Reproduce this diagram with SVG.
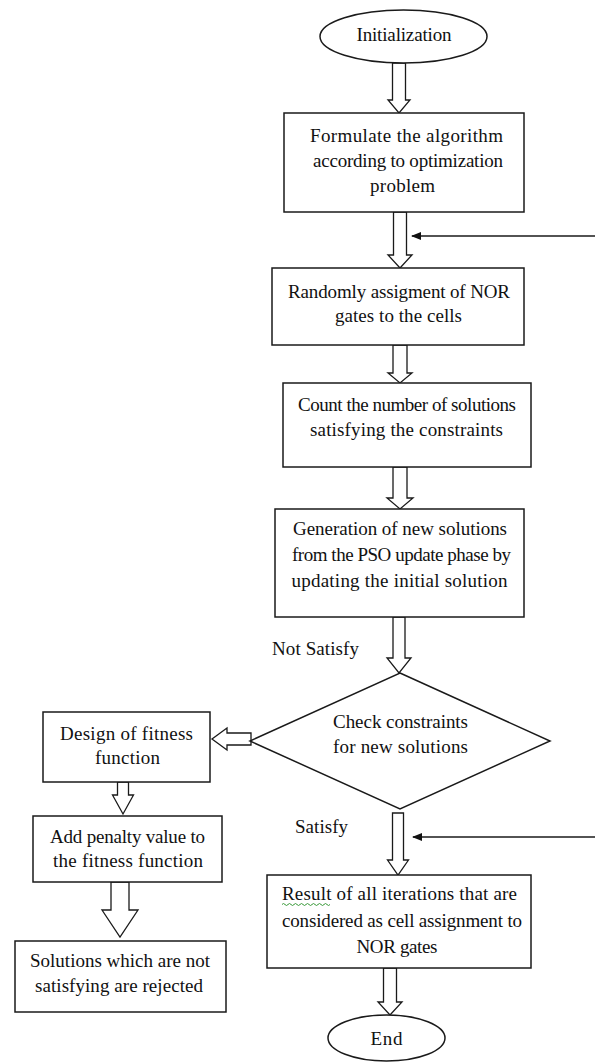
<svg xmlns="http://www.w3.org/2000/svg" width="595" height="1064" viewBox="0 0 595 1064">
<style>
.s{fill:#fff;stroke:#1a1a1a;stroke-width:1.5}
.t{font-family:"Liberation Serif","Times New Roman",serif;font-size:19px;fill:#111;text-anchor:middle}
.l{font-family:"Liberation Serif","Times New Roman",serif;font-size:19px;fill:#111}
.b{fill:#fff;stroke:#1a1a1a;stroke-width:1.3;stroke-linejoin:miter}
.ln{stroke:#1a1a1a;stroke-width:1.3;fill:none}
</style>
<defs>
<marker id="ah" markerWidth="10" markerHeight="8" refX="9" refY="4" orient="auto" markerUnits="userSpaceOnUse">
<path d="M0,0 L10,4 L0,8 Z" fill="#111"/>
</marker>
</defs>
<rect width="595" height="1064" fill="#fff"/>
<g id="connectors">
<polygon class="b" points="392.5,63 405.5,63 405.5,100 410,100 399,113 388,100 392.5,100"/>
<polygon class="b" points="393.5,212 406.5,212 406.5,255 412,255 400,268 388,255 393.5,255"/>
<polygon class="b" points="393,345 407,345 407,373 412,373 400,383 388,373 393,373"/>
<polygon class="b" points="393,467 407,467 407,498 413,498 400,509 387,498 393,498"/>
<polygon class="b" points="393,617 405,617 405,658 411,658 399,673 387,658 393,658"/>
<polygon class="b" points="251,733 251,745 227,745 227,750 212,739 227,728 227,733"/>
<polygon class="b" points="117.5,782 128.5,782 128.5,795 133.5,795 123,814 112.5,795 117.5,795"/>
<polygon class="b" points="111,882 129,882 129,910 138,910 120,937 102,910 111,910"/>
<polygon class="b" points="392.5,813 403.5,813 403.5,860 408.5,860 398,875 387.5,860 392.5,860"/>
<polygon class="b" points="383.5,968 396.5,968 396.5,1002 402,1002 390,1015 378,1002 383.5,1002"/>
<line class="ln" x1="598" y1="236" x2="412" y2="236" marker-end="url(#ah)"/>
<line class="ln" x1="598" y1="837" x2="413" y2="837" marker-end="url(#ah)"/>
</g>
<g id="init">
<ellipse class="s" cx="403.5" cy="36.5" rx="83.5" ry="26.5"/>
<text class="t" x="404" y="41" textLength="95" lengthAdjust="spacing">Initialization</text>
</g>
<g id="formulate">
<rect class="s" x="284" y="113" width="240" height="99"/>
<text class="t" x="406.5" y="142" textLength="193" lengthAdjust="spacing">Formulate the algorithm</text>
<text class="t" x="408" y="167" textLength="190" lengthAdjust="spacing">according to optimization</text>
<text class="t" x="402.5" y="192" textLength="65" lengthAdjust="spacing">problem</text>
</g>
<g id="assign">
<rect class="s" x="272" y="268" width="252" height="77"/>
<text class="t" x="399" y="298" textLength="222" lengthAdjust="spacing">Randomly assigment of NOR</text>
<text class="t" x="398.5" y="322" textLength="127" lengthAdjust="spacing">gates to the cells</text>
</g>
<g id="count">
<rect class="s" x="283" y="383" width="248" height="84"/>
<text class="t" x="407" y="411" textLength="218" lengthAdjust="spacing">Count the number of solutions</text>
<text class="t" x="406.5" y="436" textLength="193" lengthAdjust="spacing">satisfying the constraints</text>
</g>
<g id="generate">
<rect class="s" x="275" y="509" width="249" height="108"/>
<text class="t" x="400" y="535" textLength="214" lengthAdjust="spacing">Generation of new solutions</text>
<text class="t" x="401.5" y="561" textLength="219" lengthAdjust="spacing">from the PSO update phase by</text>
<text class="t" x="399.5" y="587" textLength="216" lengthAdjust="spacing">updating the initial solution</text>
</g>
<text class="l" x="272" y="655" textLength="87" lengthAdjust="spacing">Not Satisfy</text>
<g id="check">
<polygon class="s" points="400,673 550,741 400,809 250,741"/>
<text class="t" x="400.5" y="728" textLength="135" lengthAdjust="spacing">Check constraints</text>
<text class="t" x="400.5" y="753" textLength="135" lengthAdjust="spacing">for new solutions</text>
</g>
<g id="design">
<rect class="s" x="43" y="712" width="167" height="70"/>
<text class="t" x="126.5" y="740" textLength="133" lengthAdjust="spacing">Design of fitness</text>
<text class="t" x="127.5" y="764" textLength="65" lengthAdjust="spacing">function</text>
</g>
<g id="penalty">
<rect class="s" x="33" y="816" width="189" height="66"/>
<text class="t" x="127.5" y="843" textLength="155" lengthAdjust="spacing">Add penalty value to</text>
<text class="t" x="128" y="867" textLength="150" lengthAdjust="spacing">the fitness function</text>
</g>
<g id="rejected">
<rect class="s" x="15" y="941" width="211" height="71"/>
<text class="t" x="120" y="967" textLength="180" lengthAdjust="spacing">Solutions which are not</text>
<text class="t" x="119" y="992" textLength="168" lengthAdjust="spacing">satisfying are rejected</text>
</g>
<text class="l" x="295" y="833" textLength="53" lengthAdjust="spacing">Satisfy</text>
<g id="result">
<rect class="s" x="267" y="875" width="264" height="93"/>
<text class="t" x="399.5" y="900" textLength="235" lengthAdjust="spacing">Result of all iterations that are</text>
<path d="M282,904.5 q1.5,-2 3,0 t3,0 t3,0 t3,0 t3,0 t3,0 t3,0 t3,0 t3,0 t3,0 t3,0 t3,0 t3,0 t3,0 t3,0 t3,0" fill="none" stroke="#3a9a3a" stroke-width="1"/>
<text class="t" x="402" y="927" textLength="240" lengthAdjust="spacing">considered as cell assignment to</text>
<text class="t" x="397" y="953" textLength="81" lengthAdjust="spacing">NOR gates</text>
</g>
<g id="end">
<ellipse class="s" cx="386.5" cy="1038" rx="58.5" ry="23"/>
<text class="t" x="386.5" y="1045" textLength="32" lengthAdjust="spacing">End</text>
</g>
</svg>
